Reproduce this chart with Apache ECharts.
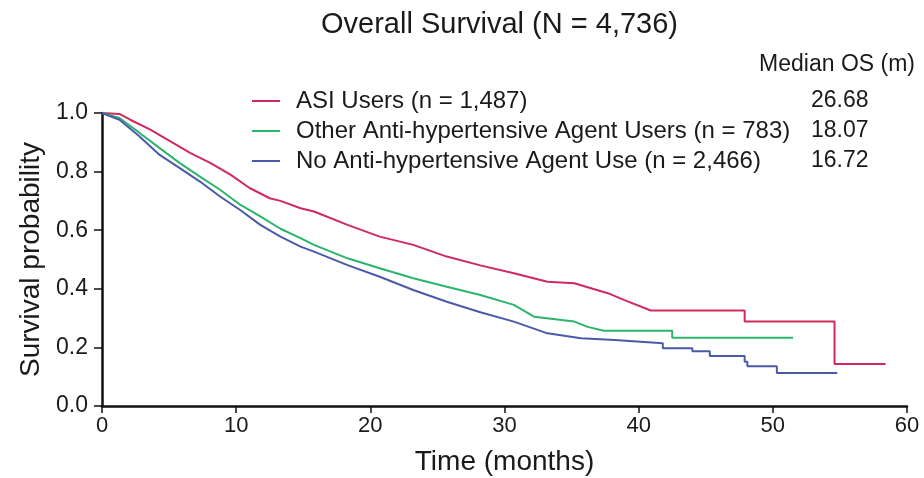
<!DOCTYPE html>
<html>
<head>
<meta charset="utf-8">
<script src="https://cdn.jsdelivr.net/npm/echarts@6/dist/echarts.min.js"></script>
<style>
  html, body { margin: 0; padding: 0; background: #fff; }
  #chart { width: 924px; height: 478px; }
</style>
</head>
<body>
<div id="chart"></div>
<script>
// Kaplan-Meier curves (months, survival probability)
const groups = [
  "ASI Users (n = 1,487)",
  "Other Anti-hypertensive Agent Users (n = 783)",
  "No Anti-hypertensive Agent Use (n = 2,466)"
];
const medianOS = ["26.68", "18.07", "16.72"];

const asiTime = [0, 1.3, 2.1, 3.6, 5.1, 6.6, 8.1, 9.6, 11.0, 12.5, 13.3, 14.8, 15.8, 18.3, 20.7, 23.2, 25.7, 28.2, 30.7, 33.2, 35.2, 37.7, 38.9, 40.9, 47.9, 47.9, 54.6, 54.6, 58.4];
const asiSurv = [1, 0.997, 0.977, 0.943, 0.903, 0.863, 0.829, 0.789, 0.744, 0.709, 0.700, 0.675, 0.664, 0.618, 0.578, 0.550, 0.510, 0.480, 0.453, 0.424, 0.419, 0.385, 0.362, 0.326, 0.326, 0.288, 0.288, 0.143, 0.143];

const otherTime = [0, 1.3, 2.8, 4.3, 5.8, 7.3, 8.8, 10.3, 11.8, 13.3, 14.8, 15.8, 18.3, 20.7, 23.2, 25.7, 28.2, 30.7, 32.2, 35.2, 36.2, 37.4, 42.5, 42.5, 51.5];
const otherSurv = [1, 0.983, 0.932, 0.880, 0.829, 0.783, 0.738, 0.687, 0.647, 0.605, 0.573, 0.550, 0.504, 0.470, 0.436, 0.407, 0.379, 0.345, 0.305, 0.288, 0.270, 0.257, 0.257, 0.233, 0.233];

const noneTime = [0, 1.3, 2.8, 4.3, 5.8, 7.3, 8.8, 10.3, 11.8, 13.3, 14.8, 15.8, 18.3, 20.7, 23.2, 25.7, 28.2, 30.7, 33.2, 35.7, 38.2, 41.8, 41.8, 44.0, 44.0, 45.3, 45.3, 47.9, 47.9, 48.1, 48.1, 50.3, 50.3, 54.8];
const noneSurv = [1, 0.977, 0.920, 0.857, 0.812, 0.766, 0.715, 0.669, 0.618, 0.578, 0.544, 0.527, 0.481, 0.441, 0.396, 0.356, 0.320, 0.288, 0.248, 0.231, 0.225, 0.214, 0.197, 0.197, 0.187, 0.187, 0.171, 0.171, 0.151, 0.151, 0.136, 0.136, 0.113, 0.113];

const colors = ["#cf2a5c", "#2bb46c", "#4b5aa8"];
const font = "Liberation Sans";
const ink = "#1a1a1a";

const pairs = (t, s) => t.map((x, i) => [x, s[i]]);
const curves = [pairs(asiTime, asiSurv), pairs(otherTime, otherSurv), pairs(noneTime, noneSurv)];

const chart = echarts.init(document.getElementById("chart"));

chart.setOption({
  animation: false,
  textStyle: { fontFamily: font },
  title: [
    {
      text: "Overall Survival (N = 4,736)",
      left: 316,
      top: 5,
      textStyle: { fontFamily: font, fontSize: 29, fontWeight: "normal", color: ink }
    },
    {
      text: "Median OS (m)",
      right: 4,
      top: 48,
      textStyle: { fontFamily: font, fontSize: 23, fontWeight: "normal", color: ink }
    }
  ],
  legend: {
    orient: "vertical",
    left: 247,
    top: 84,
    itemWidth: 28,
    itemHeight: 2,
    itemGap: 6,
    icon: "rect",
    selectedMode: false,
    data: groups,
    formatter: name => "{a|" + name + "}{b|" + medianOS[groups.indexOf(name)] + "}",
    textStyle: {
      fontFamily: font,
      color: ink,
      rich: {
        a: { width: 515, fontSize: 24, fontFamily: font, color: ink, padding: [0, 0, 0, 11] },
        b: { fontSize: 23, fontFamily: font, color: ink }
      }
    }
  },
  grid: { left: 102, right: 17, top: 113, bottom: 72, outerBoundsMode: "none" },
  xAxis: {
    type: "value",
    min: 0,
    max: 60,
    interval: 10,
    name: "Time (months)",
    nameLocation: "middle",
    nameGap: 42,
    nameTextStyle: { fontFamily: font, fontSize: 28, color: ink },
    axisLine: { lineStyle: { color: "#111", width: 2.5 } },
    axisTick: { show: true, length: 7, lineStyle: { color: "#111", width: 1.5 } },
    axisLabel: { fontFamily: font, fontSize: 22, color: ink, margin: 9 },
    splitLine: { show: false }
  },
  yAxis: {
    type: "value",
    min: 0,
    max: 1,
    interval: 0.2,
    name: "Survival probability",
    nameLocation: "middle",
    nameGap: 56,
    nameTextStyle: { fontFamily: font, fontSize: 28, color: ink },
    axisLine: { show: true, lineStyle: { color: "#111", width: 2.5 } },
    axisTick: { show: true, length: 8, lineStyle: { color: "#111", width: 1.5 } },
    axisLabel: { fontFamily: font, fontSize: 23, color: ink, margin: 14, formatter: v => v.toFixed(1) },
    splitLine: { show: false }
  },
  series: groups.map((g, i) => ({
    name: g,
    type: "line",
    data: curves[i],
    symbol: "none",
    color: colors[i],
    lineStyle: { width: 2, color: colors[i] }
  }))
});
</script>
</body>
</html>
